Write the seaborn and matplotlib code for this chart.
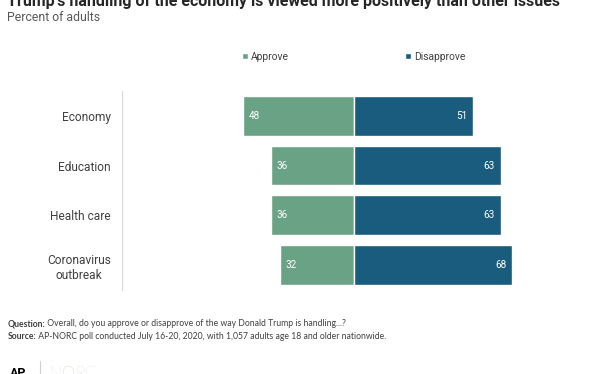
import matplotlib
matplotlib.use("Agg")
import matplotlib.pyplot as plt
import seaborn as sns
import pandas as pd
from matplotlib.patches import Patch
from matplotlib.lines import Line2D

# datos
issues = ["Economy", "Education", "Health care", "Coronavirus\noutbreak"]
approve = [48, 36, 36, 32]
disapprove = [51, 63, 63, 68]

green = "#6aa285"
blue = "#1a5c7d"

sns.set_style("white")
plt.rcParams["font.family"] = ["Roboto", "DejaVu Sans"]

df = pd.DataFrame({"issue": issues, "approve": approve, "disapprove": disapprove})
df["approve_neg"] = -df["approve"]

fig = plt.figure(figsize=(6.12, 3.74), dpi=100)
ax = fig.add_axes([0.199, 0.2246, 0.76, 0.5324])

sns.barplot(data=df, x="approve_neg", y="issue", color=green, width=0.8,
            saturation=1, ax=ax, orient="h")
sns.barplot(data=df, x="disapprove", y="issue", color=blue, width=0.8,
            saturation=1, ax=ax, orient="h")

ax.set_xlim(-100, 100)
ax.set_ylim(3.5, -0.5)
ax.set_xlabel("")
ax.set_ylabel("")
ax.set_xticks([])
for s in ["top", "right", "bottom"]:
    ax.spines[s].set_visible(False)
ax.spines["left"].set_color("#d9d9d9")
ax.spines["left"].set_linewidth(0.8)
ax.tick_params(axis="y", length=0, pad=8)
for lab in ax.get_yticklabels():
    lab.set_fontsize(8.6)
    lab.set_color("#404040")
    lab.set_multialignment("center")

# etiquetas de valores
for i in range(len(issues)):
    ax.text(-approve[i] + 2.5, i, str(approve[i]), color="white", fontsize=7.2,
            va="center", ha="left")
    ax.text(disapprove[i] - 2.5, i, str(disapprove[i]), color="white", fontsize=7.2,
            va="center", ha="right")

# leyenda
handles = [Patch(facecolor=green, label="Approve"),
           Patch(facecolor=blue, label="Disapprove")]
fig.legend(handles=handles, loc="center left", bbox_to_anchor=(0.380, 0.848),
           ncol=2, frameon=False, fontsize=7.4, handlelength=0.6, handleheight=0.6,
           handletextpad=0.3, columnspacing=11.3, labelcolor="#404040")

# titulos
fig.text(0.012, 0.985, "Trump's handling of the economy is viewed more positively than other issues",
         fontsize=11.5, fontweight="bold", color="#262626", ha="left", va="baseline")
fig.text(0.012, 0.944, "Percent of adults", fontsize=8.8, color="#595959",
         ha="left", va="baseline")

# notas (negrita + texto normal)
renderer = fig.canvas.get_renderer()
note_font = ["Lato", "DejaVu Sans"]
notes = [("Question:", " Overall, do you approve or disapprove of the way Donald Trump is handling...?", 0.134),
         ("Source:", " AP-NORC poll conducted July 16-20, 2020, with 1,057 adults age 18 and older nationwide.", 0.099)]
for bold, rest, y in notes:
    t = fig.text(0.012, y, bold, fontsize=6.2, fontweight="bold", color="#404040",
                 family=note_font, va="center")
    bb = t.get_window_extent(renderer=renderer)
    x2 = bb.x1 / fig.bbox.width
    fig.text(x2, y, rest, fontsize=6.2, color="#404040", family=note_font, va="center")

# logo
fig.text(0.016, 0.019, "AP", fontsize=9, fontweight="bold", color="black", va="top")
fig.add_artist(Line2D([0.065, 0.065], [0.0, 0.035], color="#d0d0d0", lw=0.8))
x = 0.081
for part, col in [("N", "#c8c8c8"), ("O", "#f08a24"), ("RC", "#c8c8c8")]:
    t = fig.text(x, 0.022, part, fontsize=12, color=col, va="top",
                 family=["Lato", "DejaVu Sans"], fontweight="light")
    x = t.get_window_extent(renderer=renderer).x1 / fig.bbox.width

fig.savefig("out.png", dpi=100)
